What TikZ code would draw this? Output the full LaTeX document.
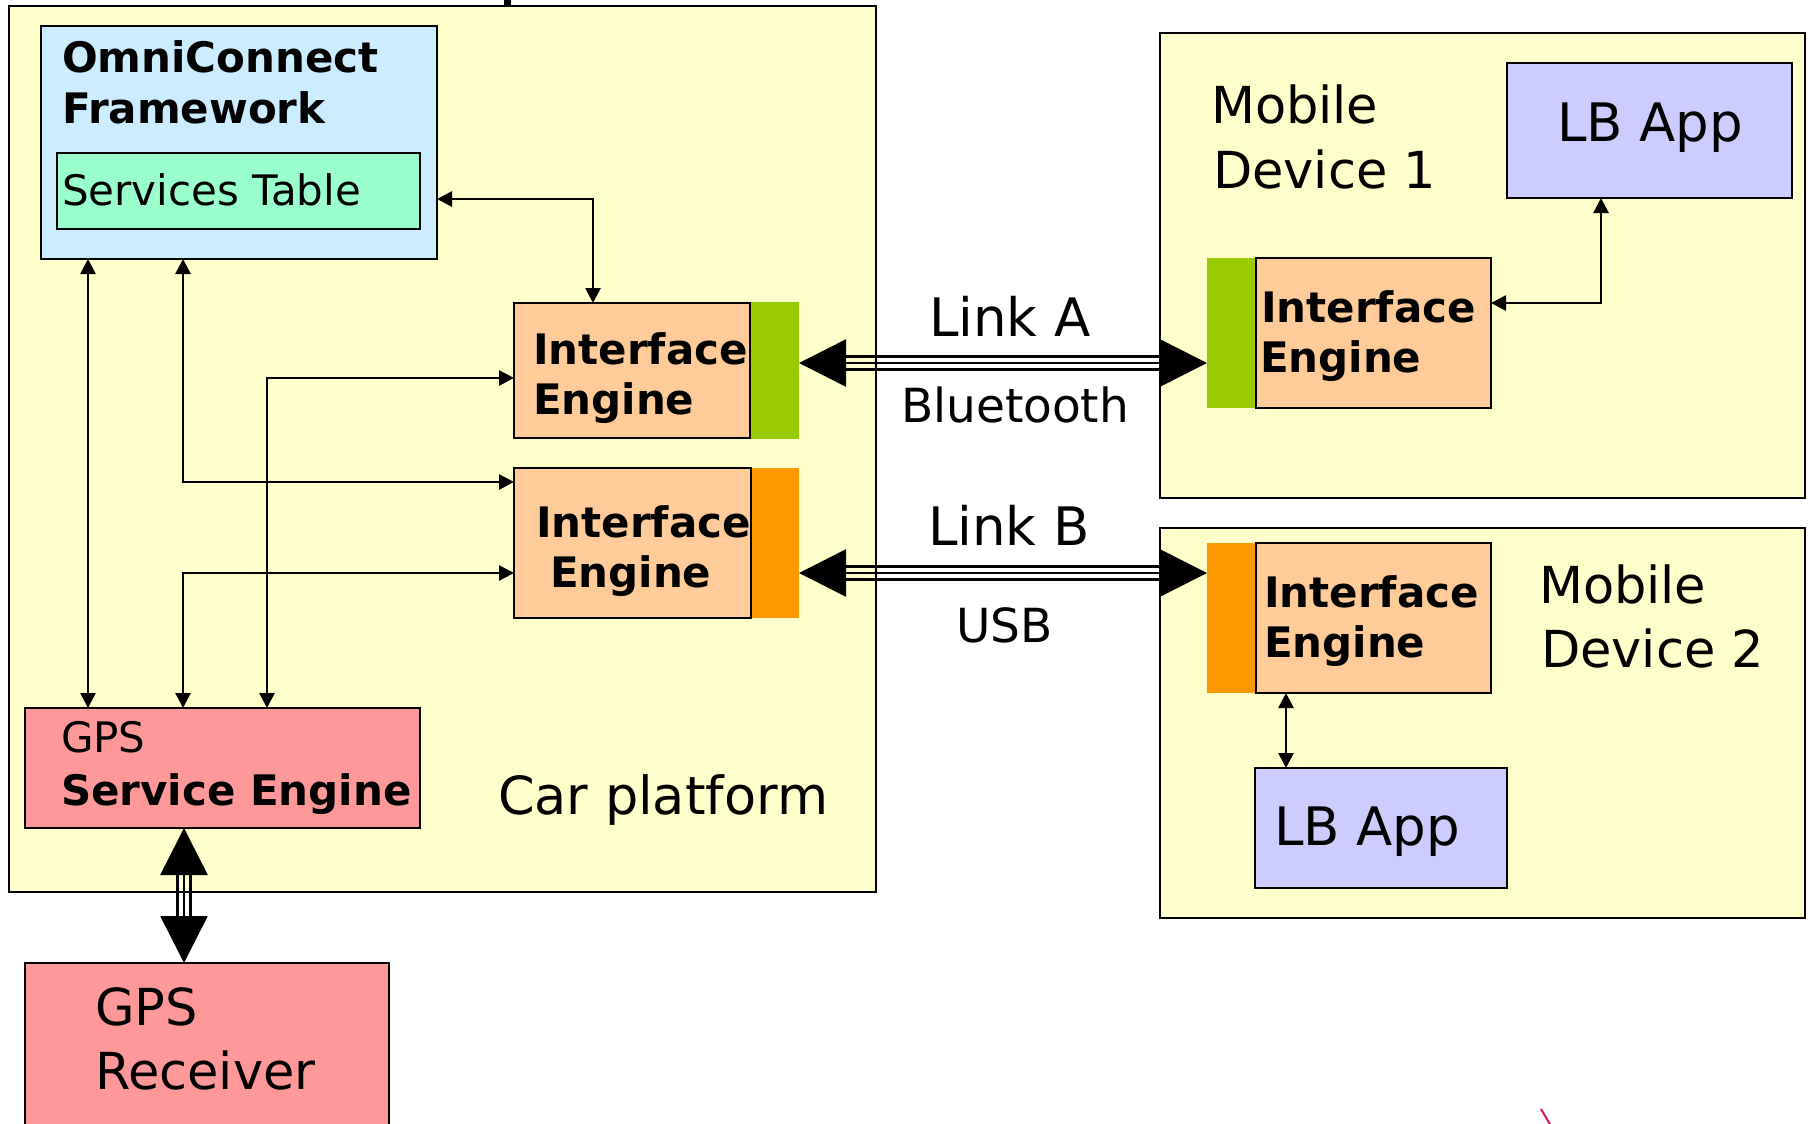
\documentclass[tikz,border=0pt]{standalone}
\usepackage{fontspec}
\setmainfont{DejaVu Sans}
\usetikzlibrary{arrows.meta}
\definecolor{platform}{HTML}{FFFFCC}
\definecolor{framework}{HTML}{CCECFF}
\definecolor{servtab}{HTML}{99FFCC}
\definecolor{engine}{HTML}{FFCC99}
\definecolor{btgreen}{HTML}{99CC00}
\definecolor{usborange}{HTML}{FF9900}
\definecolor{gpsred}{HTML}{FF9999}
\definecolor{appblue}{HTML}{CCCCFF}
\definecolor{logored}{HTML}{D4145A}
\begin{document}
\begin{tikzpicture}[x=1pt, y=-1pt,
  box/.style={draw=black, line width=2.8pt, anchor=north west, inner sep=0pt, outer sep=0pt},
  bar/.style={fill=#1, draw=none, anchor=north west, inner sep=0pt, outer sep=0pt},
  lbl/.style={anchor=base west, inner sep=0pt, outer sep=0pt},
  mid/.style={lbl, font=\fontsize{42}{50}\selectfont},
  midb/.style={lbl, font=\fontsize{42}{50}\selectfont\bfseries},
  big/.style={lbl, font=\fontsize{51}{60}\selectfont},
  bigs/.style={lbl, font=\fontsize{47}{56}\selectfont},
  conn/.style={line width=2.7pt,
    {Triangle[length=15pt,width=15pt]}-{Triangle[length=15pt,width=15pt]}},
  bigtips/.style={line width=2.6pt,
    {Triangle[length=47pt,width=47pt]}-{Triangle[length=47pt,width=47pt]}},
  linkh/.style={bigtips,
    postaction={draw, arrows=-, shorten <=45pt, shorten >=45pt, transform canvas={yshift=6.5pt}},
    postaction={draw, arrows=-, shorten <=45pt, shorten >=45pt, transform canvas={yshift=-6.5pt}}},
  linkv/.style={bigtips,
    postaction={draw, arrows=-, shorten <=45pt, shorten >=45pt, transform canvas={xshift=6.5pt}},
    postaction={draw, arrows=-, shorten <=45pt, shorten >=45pt, transform canvas={xshift=-6.5pt}}}
]
\useasboundingbox (0,0) rectangle (1808,1124);
\fill[white] (0,0) rectangle (1808,1124);

% connector entering the platform from above
\coordinate (topin) at (507,0);

% containers
\node[box, fill=platform, minimum width=867pt, minimum height=886pt] (car) at (9,6) {};
\node[box, fill=platform, minimum width=645pt, minimum height=465pt] (dev1) at (1160,33) {};
\node[box, fill=platform, minimum width=645pt, minimum height=390pt] (dev2) at (1160,528) {};
\draw[line width=7pt] (topin) -- (car.north -| topin);

% car platform contents
\node[box, fill=framework, minimum width=396pt, minimum height=233pt] (omni) at (41,26) {};
\node[box, fill=servtab, minimum width=363pt, minimum height=76pt] (servtab) at (57,153) {};
\node[bar=btgreen, minimum width=49pt, minimum height=137pt] (barA) at (750,302) {};
\node[box, fill=engine, minimum width=236pt, minimum height=135pt] (ieA) at (514,303) {};
\node[bar=usborange, minimum width=48pt, minimum height=150pt] (barB) at (751,468) {};
\node[box, fill=engine, minimum width=237pt, minimum height=150pt] (ieB) at (514,468) {};
\node[box, fill=gpsred, minimum width=395pt, minimum height=120pt] (gpsse) at (25,708) {};

% GPS receiver
\node[box, fill=gpsred, minimum width=364pt, minimum height=200pt] (gpsr) at (25,963) {};

% mobile device 1
\node[box, fill=appblue, minimum width=285pt, minimum height=135pt] (lb1) at (1507,63) {};
\node[bar=btgreen, minimum width=49pt, minimum height=150pt] (bar1) at (1207,258) {};
\node[box, fill=engine, minimum width=235pt, minimum height=150pt] (ie1) at (1256,258) {};

% mobile device 2
\node[bar=usborange, minimum width=49pt, minimum height=150pt] (bar2) at (1207,543) {};
\node[box, fill=engine, minimum width=235pt, minimum height=150pt] (ie2) at (1256,543) {};
\node[box, fill=appblue, minimum width=252pt, minimum height=120pt] (lb2) at (1255,768) {};

% labels
\node[midb] (omniT1) at (62,73) {OmniConnect};
\node[midb] (omniT2) at (62,124) {Framework};
\node[mid] (servT) at (62,205) {Services Table};
\node[midb] (ieAT1) at (533,364) {Interface};
\node[midb] (ieAT2) at (533,414) {Engine};
\node[midb] (ieBT1) at (536,537) {Interface};
\node[midb] (ieBT2) at (550,587) {Engine};
\node[mid] (gpsseT1) at (61,752) {GPS};
\node[midb] (gpsseT2) at (61,805) {Service Engine};
\node[big, font=\fontsize{52.5}{60}\selectfont] (carT) at (498,814) {Car platform};
\node[big] (gpsrT1) at (95,1025) {GPS};
\node[big] (gpsrT2) at (95,1089) {Receiver};
\node[big, font=\fontsize{53}{60}\selectfont] (linkAT) at (929,336) {Link A};
\node[bigs] (btT) at (901,422) {Bluetooth};
\node[big, font=\fontsize{53}{60}\selectfont] (linkBT) at (928,545) {Link B};
\node[bigs] (usbT) at (956,642) {USB};
\node[big] (dev1T1) at (1211,124) {Mobile};
\node[big] (dev1T2) at (1213,188) {Device 1};
\node[big, font=\fontsize{53}{60}\selectfont] (lb1T) at (1557,141) {LB App};
\node[midb] (ie1T1) at (1261,322) {Interface};
\node[midb] (ie1T2) at (1260,372) {Engine};
\node[midb] (ie2T1) at (1264,607) {Interface};
\node[midb] (ie2T2) at (1264,657) {Engine};
\node[big] (dev2T1) at (1539,603) {Mobile};
\node[big] (dev2T2) at (1541,667) {Device 2};
\node[big, font=\fontsize{53}{60}\selectfont] (lb2T) at (1274,845) {LB App};

% internal connectors
\coordinate (k1) at (593,199);
\draw[conn] (omni.east |- k1) -- (k1) -- (ieA.north -| k1);
\coordinate (k2) at (88,0);
\draw[conn] (omni.south -| k2) -- (gpsse.north -| k2);
\coordinate (k3) at (183,482);
\draw[conn] (omni.south -| k3) -- (k3) -- (ieB.west |- k3);
\coordinate (k4) at (183,573);
\draw[conn] (gpsse.north -| k4) -- (k4) -- (ieB.west |- k4);
\coordinate (k5) at (267,378);
\draw[conn] (gpsse.north -| k5) -- (k5) -- (ieA.west |- k5);
\coordinate (k6) at (1601,303);
\draw[conn] (lb1.south -| k6) -- (k6) -- (ie1.east |- k6);
\coordinate (k7) at (1286,0);
\draw[conn] (ie2.south -| k7) -- (lb2.north -| k7);

% links
\coordinate (kA) at (0,363);
\draw[linkh] (barA.east |- kA) -- (bar1.west |- kA);
\coordinate (kB) at (0,573);
\draw[linkh] (barB.east |- kB) -- (bar2.west |- kB);
\coordinate (kG) at (184,0);
\draw[linkv] (gpsse.south -| kG) -- (gpsr.north -| kG);

% logo fragment
\coordinate (lg1) at (1541,1109);
\coordinate (lg2) at (1551,1126);
\draw[logored, line width=2pt] (lg1) -- (lg2);
\end{tikzpicture}
\end{document}
